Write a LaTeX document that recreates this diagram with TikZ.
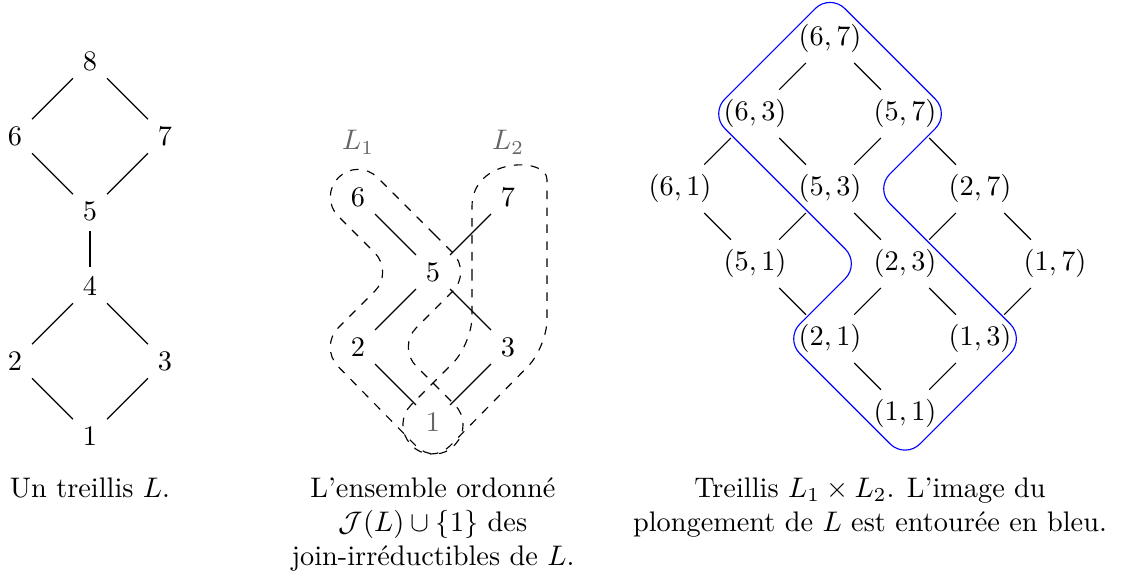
\documentclass[tikz,border=0pt]{standalone}
\usepackage{amsmath,amssymb}
\usepackage{fontspec}
\usetikzlibrary{positioning}
\tikzstyle{faded}  = [text=black!60]
\tikzstyle{cover}  = [draw=black]
\tikzstyle{chain}  = [draw=black, dashed, rounded corners=3.4mm]
\tikzstyle{embed}  = [draw=blue, rounded corners=2.6mm]
\tikzstyle{legend} = [anchor=north, align=center]

\begin{document}
\begin{tikzpicture}[x=0.9315cm, y=0.9315cm, on grid, node distance=0.9315cm and 0.9315cm]
    \useasboundingbox (0,0) rectangle (15,7.747);

    % le treillis L
    \node (l1) at (1.2,1.93)         {1};
    \node (l2) [above left=of l1]  {2};
    \node (l3) [above right=of l1] {3};
    \node (l4) [above right=of l2] {4};
    \node (l5) [above=of l4]       {5};
    \node (l6) [above left=of l5]  {6};
    \node (l7) [above right=of l5] {7};
    \node (l8) [above right=of l6] {8};

    \draw [cover] (l1) -- (l2);
    \draw [cover] (l1) -- (l3);
    \draw [cover] (l2) -- (l4);
    \draw [cover] (l3) -- (l4);
    \draw [cover] (l4) -- (l5);
    \draw [cover] (l5) -- (l6);
    \draw [cover] (l5) -- (l7);
    \draw [cover] (l6) -- (l8);
    \draw [cover] (l7) -- (l8);

    \node (capL) [legend] at (1.2,1.515) {Un treillis $L$.};

    % J(L) et les deux chaines
    \node (j1) [faded] at (5.773,2.12) {1};
    \node (j2) [above left=of j1]  {2};
    \node (j3) [above right=of j1] {3};
    \node (j5) [above right=of j2] {5};
    \node (j6) [above left=of j5]  {6};
    \node (j7) [above right=of j5] {7};
    \node (ch1) [faded, above=0.68cm of j6] {$L_1$};
    \node (ch2) [faded, above=0.68cm of j7] {$L_2$};

    \draw [cover] (j1) -- (j2);
    \draw [cover] (j1) -- (j3);
    \draw [cover] (j2) -- (j5);
    \draw [cover] (j3) -- (j5);
    \draw [cover] (j5) -- (j6);
    \draw [cover] (j5) -- (j7);

    \begin{scope}[shift={(j1.center)}]
        \draw [chain] (-0.24,2.76) -- (0.52,2) -- (-0.48,1) -- (0.55,-0.03) -- (0.03,-0.58)
            -- (-1.52,1) -- (-0.52,2) -- (-1.52,3) -- (-1,3.52) -- cycle;
        \draw [chain] (0.52,2) -- (0.52,1.04) -- (-0.55,-0.03) -- (-0.03,-0.58) -- (1.52,1)
            -- (1.52,2.87) [sharp corners] .. controls (1.52,3.537) and (0.52,3.537) .. (0.52,2.87) -- cycle;
    \end{scope}

    \node (capJ) [legend] at (5.773,1.515)
        {L'ensemble ordonné\\ $\mathcal{J}(L)\cup\{1\}$ des\\ join-irréductibles de $L$.};

    % le produit L1 x L2
    \node (p11) at (12.067,2.23)      {$(1,1)$};
    \node (p21) [above left=of p11]  {$(2,1)$};
    \node (p13) [above right=of p11] {$(1,3)$};
    \node (p51) [above left=of p21]  {$(5,1)$};
    \node (p23) [above right=of p21] {$(2,3)$};
    \node (p17) [above right=of p13] {$(1,7)$};
    \node (p61) [above left=of p51]  {$(6,1)$};
    \node (p53) [above right=of p51] {$(5,3)$};
    \node (p27) [above right=of p23] {$(2,7)$};
    \node (p63) [above right=of p61] {$(6,3)$};
    \node (p57) [above right=of p53] {$(5,7)$};
    \node (p67) [above right=of p63] {$(6,7)$};

    \draw [cover] (p11) -- (p21);
    \draw [cover] (p11) -- (p13);
    \draw [cover] (p21) -- (p51);
    \draw [cover] (p21) -- (p23);
    \draw [cover] (p13) -- (p23);
    \draw [cover] (p13) -- (p17);
    \draw [cover] (p51) -- (p61);
    \draw [cover] (p51) -- (p53);
    \draw [cover] (p23) -- (p53);
    \draw [cover] (p23) -- (p27);
    \draw [cover] (p17) -- (p27);
    \draw [cover] (p61) -- (p63);
    \draw [cover] (p53) -- (p63);
    \draw [cover] (p53) -- (p57);
    \draw [cover] (p27) -- (p57);
    \draw [cover] (p63) -- (p67);
    \draw [cover] (p57) -- (p67);

    % image du plongement
    \begin{scope}[shift={(p11.center)}]
        \draw [embed] (-1.8,4.8) -- (-2.6,4) -- (-0.6,2) -- (-1.6,1) -- (0,-0.6)
            -- (1.6,1) -- (-0.4,3) -- (0.6,4) -- (-1,5.6) -- cycle;
    \end{scope}

    \node (capP) [legend] at (11.6,1.515)
        {Treillis $L_1\times L_2$. L'image du\\ plongement de $L$ est entourée en bleu.};
\end{tikzpicture}
\end{document}
